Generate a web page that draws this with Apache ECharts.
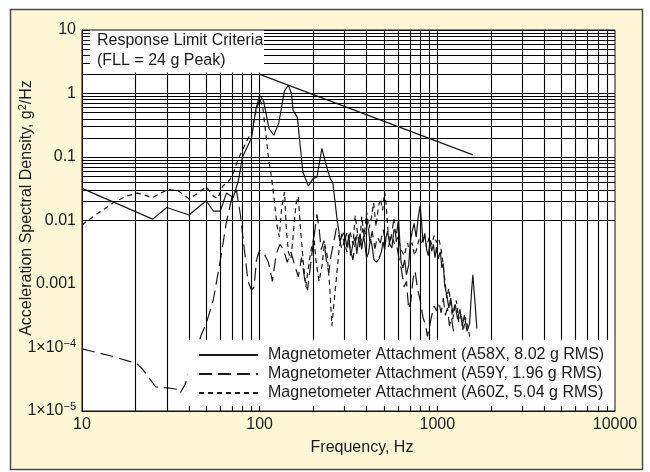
<!DOCTYPE html>
<html>
<head>
<meta charset="utf-8">
<script src="https://cdn.jsdelivr.net/npm/echarts@6/dist/echarts.min.js"></script>
<style>
  html, body { margin: 0; padding: 0; background: #ffffff; }
  #chart { width: 650px; height: 472px; }
</style>
</head>
<body>
<div id="chart"></div>
<script>
// Acceleration spectral density of the magnetometer attachment, [Hz, g^2/Hz]
const a58x = [
  [10,0.032],[25,0.0105],[30,0.016],[40,0.0122],[50,0.0205],[55,0.014],[60,0.014],[65,0.027],
  [71,0.023],[76,0.043],[80,0.10],[90,0.20],[95,0.55],[100,0.93],[105,0.78],[113,0.28],
  [120,0.22],[128,0.34],[138,1.1],[145,1.35],[151,1.0],[154,0.55],[163,0.42],[175,0.058],
  [188,0.035],[200,0.046],[210,0.048],[224,0.137],[235,0.08],[250,0.045],[258,0.04],[272,0.011],
  [284,0.0048],[292,0.0058],[300,0.0065],[310,0.0038],[318,0.006],[325,0.0028],[335,0.0042],
  [345,0.0055],[352,0.003],[360,0.0048],[368,0.0062],[375,0.0035],[385,0.0058],[392,0.004],
  [400,0.0026],[410,0.0031],[420,0.0052],[430,0.0038],[440,0.0024],[455,0.0022],[470,0.0025],
  [485,0.0033],[495,0.0046],[505,0.0035],[515,0.0055],[525,0.0068],[540,0.0042],[555,0.0037],
  [570,0.0072],[590,0.0063],[605,0.0105],[615,0.0045],[625,0.0022],[640,0.0018],[655,0.0024],
  [670,0.0014],[690,0.0020],[705,0.0047],[720,0.0065],[740,0.009],[760,0.0055],[780,0.011],
  [800,0.017],[815,0.0095],[830,0.0045],[850,0.0063],[870,0.0035],[890,0.0028],[910,0.0048],
  [930,0.0033],[950,0.0042],[970,0.0026],[990,0.0038],[1010,0.0025],[1040,0.0032],[1060,0.0018],
  [1080,0.0021],[1100,0.00095],[1130,0.00068],[1160,0.00042],[1190,0.0006],[1220,0.00035],
  [1260,0.00048],[1300,0.00028],[1340,0.0004],[1380,0.00022],[1420,0.00032],[1470,0.00018],
  [1520,0.00024],[1560,0.0008],[1585,0.0014],[1630,0.0005],[1670,0.0002]
];
const a59y = [
  [10,9.5e-5],[15,7.2e-5],[20.3,5.6e-5],[22,4.5e-5],[24.7,2.9e-5],[26,2.4e-5],[31,2.3e-5],
  [34,2.2e-5],[35.6,1.9e-5],[38,2.6e-5],[42,6e-5],[46.6,1.5e-4],[50.3,2.5e-4],[54.8,5.6e-4],
  [59.8,0.0022],[65,0.0095],[70,0.024],[74,0.03],[78,0.012],[82,0.0035],[86,0.0011],[90,0.0008],
  [93,0.0009],[96,0.0024],[100,0.0034],[106,0.003],[112,0.0022],[118,0.0011],[124,0.003],
  [130,0.0042],[136,0.0035],[143,0.0022],[150,0.0032],[158,0.0019],[165,0.0013],[172,0.0026],
  [180,0.0011],[186,0.0008],[195,0.0024],[203,0.006],[210,0.0125],[216,0.0075],[222,0.0035],
  [230,0.0048],[238,0.0022],[245,0.0015],[252,0.0028],[260,0.0042],[270,0.0075],[280,0.0055],
  [290,0.0035],[300,0.0048],[312,0.0068],[322,0.0038],[335,0.0024],[345,0.0045],[355,0.0062],
  [368,0.0041],[380,0.0075],[392,0.0052],[405,0.0095],[418,0.0045],[430,0.0068],[445,0.0036],
  [460,0.0055],[478,0.0044],[495,0.0072],[510,0.0048],[530,0.0038],[550,0.0058],[570,0.0105],
  [590,0.0042],[610,0.0024],[630,0.0016],[650,0.0009],[670,0.0011],[690,0.0004],[710,0.00055],
  [730,0.0012],[750,0.0016],[770,0.0009],[800,0.00056],[830,0.0003],[860,0.00022],[880,0.00015],
  [900,0.00014],[930,0.00032],[960,0.00045],[990,0.00038],[1020,0.00052],[1050,0.00035],
  [1080,0.0006],[1110,0.00032],[1140,0.00042],[1170,0.00022],[1200,0.0003],[1240,0.00016]
];
const a60z = [
  [10,0.0085],[12,0.0124],[15,0.019],[17.6,0.024],[20.5,0.027],[25,0.023],[30.5,0.031],[35,0.029],
  [40,0.022],[45,0.027],[50,0.034],[55,0.024],[58,0.022],[62,0.035],[66,0.04],[70,0.05],[76,0.095],
  [83,0.16],[90,0.25],[95,0.5],[100,0.82],[104,0.62],[108,0.25],[112,0.1],[117,0.045],[121,0.02],
  [125,0.0085],[129,0.0055],[133,0.016],[138,0.028],[141,0.008],[145,0.0032],[150,0.0025],
  [155,0.0065],[160,0.018],[165,0.024],[170,0.007],[176,0.0022],[182,0.0009],[188,0.0018],
  [195,0.0035],[202,0.0055],[208,0.0022],[216,0.0011],[224,0.0019],[232,0.0044],[240,0.0028],
  [248,0.0009],[255,0.00022],[262,0.0005],[270,0.0012],[280,0.0035],[290,0.0062],[300,0.0045],
  [310,0.0032],[322,0.0068],[335,0.0042],[345,0.012],[355,0.0065],[365,0.0038],[375,0.0115],
  [388,0.0058],[400,0.0135],[412,0.0075],[425,0.011],[438,0.019],[452,0.008],[465,0.016],
  [478,0.022],[492,0.0145],[505,0.028],[515,0.018],[528,0.0065],[540,0.0045],[555,0.0058],
  [575,0.0042],[600,0.0055],[625,0.0035],[650,0.0028],[680,0.0044],[700,0.0032],[720,0.0045],
  [745,0.0028],[770,0.0038],[795,0.0055],[820,0.0042],[845,0.0062],[870,0.0038],[900,0.0055],
  [930,0.0042],[960,0.0058],[990,0.0045],[1020,0.0052],[1050,0.0035],[1075,0.0022],[1100,0.0012],
  [1130,0.0006],[1160,0.00085],[1190,0.0005],[1220,0.00028],[1250,0.0004],[1280,0.00055],
  [1320,0.00025],[1360,0.00035],[1400,0.00018],[1440,0.0003],[1480,0.00022],[1520,0.00015]
];
// Response limit criteria (FLL = 24 g peak)
const limitLine = [[100,2],[1585,0.108]];

const seriesNames = [
  'Magnetometer Attachment (A58X, 8.02 g RMS)',
  'Magnetometer Attachment (A59Y, 1.96 g RMS)',
  'Magnetometer Attachment (A60Z, 5.04 g RMS)'
];
const xTickValues = [10, 100, 1000, 10000];
const yTickLabels = { '1': '10', '0': '1', '-1': '0.1', '-2': '0.01', '-3': '0.001' };

// log-grid lines: 1..9 x each decade
const xGridLines = [];
for (let d = 1; d <= 3; d++) for (let m = 2; m <= 9; m++) xGridLines.push(m * Math.pow(10, d));
[100, 1000].forEach(v => xGridLines.push(v));
const yGridLines = [];
for (let d = -5; d <= 0; d++) for (let m = 1; m <= 9; m++) yGridLines.push(+(m * Math.pow(10, d)).toPrecision(3));
yGridLines.push(10);

const FONT = '"Liberation Sans", Arial, Helvetica, sans-serif';
const INK = '#1a1a1a';

const chart = echarts.init(document.getElementById('chart'), null, { renderer: 'canvas' });

const lineSeries = (name, data, dash) => ({
  name, type: 'line', data, symbol: 'none', z: 3, silent: true,
  lineStyle: { color: INK, width: 1.2, type: dash },
  itemStyle: { color: INK },
  emphasis: { disabled: true }
});

chart.setOption({
  animation: false,
  backgroundColor: '#ffffff',
  textStyle: { fontFamily: FONT },
  graphic: [
    {
      type: 'rect', z: -10, silent: true,
      shape: { x: 10.5, y: 9.5, width: 632, height: 460 },
      style: { fill: '#fef7d6', stroke: '#4a4a4a', lineWidth: 1.5 }
    },
    {
      type: 'rect', z: 100, zlevel: 0, silent: true,
      shape: { x: 90, y: 30.5, width: 174, height: 42 },
      style: { fill: '#ffffff' }
    },
    {
      type: 'text', z: 101, silent: true, x: 97, y: 31,
      style: {
        text: 'Response Limit Criteria\n(FLL = 24 g Peak)',
        font: '16px ' + FONT, fill: INK, lineHeight: 20
      }
    },
    {
      type: 'text', z: 100, silent: true, x: 27, y: 208, rotation: Math.PI / 2,
      style: {
        text: '{a|Acceleration Spectral Density, g}{s|2}{a|/Hz}',
        align: 'center', verticalAlign: 'middle',
        rich: {
          a: { fontSize: 16, fontFamily: FONT, fill: INK, color: INK },
          s: { fontSize: 11, fontFamily: FONT, fill: INK, color: INK, padding: [0, 0, 8, 0] }
        }
      }
    },
    {
      type: 'text', z: 100, silent: true, x: 362, y: 448,
      style: { text: 'Frequency, Hz', font: '16px ' + FONT, fill: INK, align: 'center', verticalAlign: 'middle' }
    }
  ],
  grid: {
    left: 82, top: 30, width: 533, height: 381,
    show: true, backgroundColor: '#ffffff', borderColor: '#111', borderWidth: 1
  },
  legend: {
    data: seriesNames,
    orient: 'vertical',
    left: 188, top: 340,
    padding: [7, 6, 5, 10],
    backgroundColor: '#ffffff',
    itemWidth: 59, itemHeight: 16, itemGap: 3,
    selectedMode: false,
    itemStyle: { opacity: 0 },
    textStyle: { fontSize: 16, fontFamily: FONT, color: INK, padding: [0, 0, 0, 5], lineHeight: 16 },
    z: 50
  },
  xAxis: {
    type: 'log', logBase: 10, min: 10, max: 10000, splitNumber: 3,
    axisLine: { show: true, lineStyle: { color: '#111' } },
    axisTick: { show: false },
    splitLine: { show: false },
    axisLabel: {
      margin: 6, fontSize: 16, color: INK, fontFamily: FONT,
      formatter: v => {
        const k = xTickValues.find(t => Math.abs(t - v) / t < 1e-6);
        return k ? String(k) : '';
      }
    }
  },
  yAxis: {
    type: 'log', logBase: 10, min: 1e-5, max: 10, splitNumber: 6,
    axisLine: { show: true, lineStyle: { color: '#111' } },
    axisTick: { show: false },
    splitLine: { show: false },
    axisLabel: {
      margin: 6, color: INK, fontFamily: FONT, fontSize: 16,
      formatter: v => {
        const e = Math.round(Math.log10(v));
        if (yTickLabels[e] !== undefined) return yTickLabels[e];
        return '{b|1\u00d710}{s|\u2212' + Math.abs(e) + '}';
      },
      rich: {
        b: { fontSize: 16, fontFamily: FONT, color: INK },
        s: { fontSize: 11, fontFamily: FONT, color: INK, padding: [0, 0, 8, 0] }
      }
    }
  },
  series: [
    {
      name: 'limit', type: 'line', data: limitLine, symbol: 'none', z: 2, silent: true,
      lineStyle: { color: INK, width: 1.2 },
      markLine: {
        silent: true, symbol: ['none', 'none'], animation: false,
        label: { show: false },
        emphasis: { disabled: true },
        lineStyle: { type: 'solid', color: '#000000', width: 1.1 },
        data: xGridLines.map(v => ({ xAxis: v })).concat(yGridLines.map(v => ({ yAxis: v })))
      }
    },
    lineSeries(seriesNames[0], a58x, 'solid'),
    lineSeries(seriesNames[1], a59y, [13, 6]),
    lineSeries(seriesNames[2], a60z, [5, 4])
  ]
});
</script>
</body>
</html>
